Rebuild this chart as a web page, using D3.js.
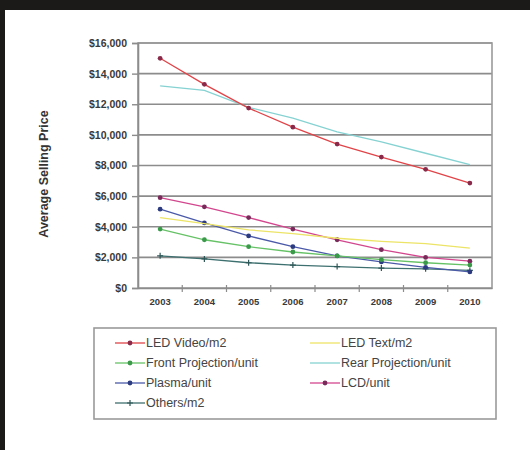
<!DOCTYPE html>
<html>
<head>
<meta charset="utf-8">
<script src="https://cdn.jsdelivr.net/npm/d3@7"></script>
<style>
  html, body { margin: 0; padding: 0; background: #1c1a18; }
  svg { display: block; }
  text { font-family: Arial, "Liberation Sans", sans-serif; }
</style>
</head>
<body>
<svg id="chart" width="530" height="450"></svg>
<script>
// Years on the category axis
const years = ["2003", "2004", "2005", "2006", "2007", "2008", "2009", "2010"];

// Average selling price per series (USD)
const ledVideo   = [15000, 13300, 11750, 10500, 9400, 8550, 7750, 6850];
const ledText    = [4600, 4200, 3800, 3550, 3250, 3050, 2900, 2600];
const frontProj  = [3850, 3150, 2700, 2350, 2100, 1850, 1650, 1500];
const rearProj   = [13200, 12900, 11800, 11100, 10200, 9550, 8800, 8050];
const plasma     = [5150, 4250, 3400, 2700, 2100, 1700, 1350, 1050];
const lcd        = [5900, 5300, 4600, 3850, 3150, 2500, 2000, 1750];
const others     = [2100, 1900, 1650, 1500, 1400, 1300, 1250, 1150];

const seriesNames = ["LED Video/m2", "LED Text/m2", "Front Projection/unit", "Rear Projection/unit",
                     "Plasma/unit", "LCD/unit", "Others/m2"];
const yTicks = [0, 2000, 4000, 6000, 8000, 10000, 12000, 14000, 16000];

const series = [
  { name: seriesNames[0], values: ledVideo,  line: "#e04448", mark: "#8a2a4a", shape: "circle" },
  { name: seriesNames[1], values: ledText,   line: "#ece466", mark: "#d8cf40", shape: "none" },
  { name: seriesNames[2], values: frontProj, line: "#66c266", mark: "#3a9a4a", shape: "circle" },
  { name: seriesNames[3], values: rearProj,  line: "#86d2d2", mark: "#6cc0c0", shape: "none" },
  { name: seriesNames[4], values: plasma,    line: "#4b5aa8", mark: "#2c3a80", shape: "circle" },
  { name: seriesNames[5], values: lcd,       line: "#d2468e", mark: "#7a2a5a", shape: "circle" },
  { name: seriesNames[6], values: others,    line: "#3e7070", mark: "#2e5656", shape: "plus" }
];

const svg = d3.select("#chart");

// white page inside the dark frame
svg.append("rect").attr("x", 5).attr("y", 10).attr("width", 525).attr("height", 440).attr("fill", "#ffffff");

const plot = { left: 138, right: 492, top: 43, bottom: 288 };

const x = d3.scaleBand().domain(years).range([plot.left, plot.right]);
const y = d3.scaleLinear().domain([0, 16000]).range([plot.bottom, plot.top]);

// horizontal gridlines
svg.append("g")
  .selectAll("line")
  .data(yTicks.filter(d => d > 0))
  .join("line")
  .attr("x1", plot.left).attr("x2", plot.right)
  .attr("y1", d => y(d)).attr("y2", d => y(d))
  .attr("stroke", "#8c8c8c").attr("stroke-width", 1.6);

// plot frame
svg.append("rect")
  .attr("x", plot.left).attr("y", plot.top)
  .attr("width", plot.right - plot.left).attr("height", plot.bottom - plot.top)
  .attr("fill", "none").attr("stroke", "#9a9a9a").attr("stroke-width", 1.6);

// y axis
const yAxis = d3.axisLeft(y)
  .tickValues(yTicks)
  .tickSize(6)
  .tickPadding(5)
  .tickFormat(d => "$" + d3.format(",")(d));
const gy = svg.append("g").attr("transform", `translate(${plot.left},0)`).call(yAxis);
gy.select(".domain").attr("stroke", "#8c8c8c").attr("stroke-width", 1.6);
gy.selectAll(".tick line").attr("stroke", "#8c8c8c").attr("stroke-width", 1.4);
gy.selectAll(".tick text").attr("font-size", 10.5).attr("fill", "#3a3a3a").attr("font-weight", "bold");

// x axis: labels centred in bands, tick marks on band boundaries
const xAxis = d3.axisBottom(x).tickSize(0).tickPadding(10);
const gx = svg.append("g").attr("transform", `translate(0,${plot.bottom})`).call(xAxis);
gx.select(".domain").attr("stroke", "#8c8c8c").attr("stroke-width", 1.6);
gx.selectAll(".tick text").attr("font-size", 9.5).attr("fill", "#3a3a3a").attr("font-weight", "bold");
svg.append("g")
  .selectAll("line")
  .data(years.slice(1))
  .join("line")
  .attr("x1", d => x(d)).attr("x2", d => x(d))
  .attr("y1", plot.bottom - 3).attr("y2", plot.bottom + 4)
  .attr("stroke", "#8c8c8c").attr("stroke-width", 1.2);

// y axis title
svg.append("text")
  .attr("transform", `translate(48,174) rotate(-90)`)
  .attr("text-anchor", "middle")
  .attr("font-size", 12.5)
  .attr("font-weight", "bold")
  .attr("fill", "#333")
  .text("Average Selling Price");

const cx = d => x(d) + x.bandwidth() / 2;
const line = d3.line().x((v, i) => cx(years[i])).y(v => y(v));

function drawMarker(g, shape, color, px, py) {
  if (shape === "circle") {
    g.append("circle").attr("cx", px).attr("cy", py).attr("r", 2.4).attr("fill", color);
  } else if (shape === "plus") {
    g.append("path")
      .attr("d", `M${px - 3},${py}H${px + 3}M${px},${py - 3}V${py + 3}`)
      .attr("stroke", color).attr("stroke-width", 1.2);
  }
}

// series lines, last legend entry drawn first so LED Video sits on top
const lines = svg.append("g");
series.slice().reverse().forEach(s => {
  const g = lines.append("g");
  g.append("path")
    .attr("d", line(s.values))
    .attr("fill", "none")
    .attr("stroke", s.line)
    .attr("stroke-width", 1.3);
  s.values.forEach((v, i) => drawMarker(g, s.shape, s.mark, cx(years[i]), y(v)));
});

// legend
const lg = svg.append("g");
lg.append("rect")
  .attr("x", 94).attr("y", 328).attr("width", 402).attr("height", 91)
  .attr("fill", "#fff").attr("stroke", "#9a9a9a").attr("stroke-width", 1.6);

const colX = [115, 310];
const rowY = [343, 363, 383, 403];
series.forEach((s, i) => {
  const col = i % 2, row = Math.floor(i / 2);
  const lx = colX[col], ly = rowY[row];
  const g = lg.append("g");
  g.append("line")
    .attr("x1", lx).attr("x2", lx + 30).attr("y1", ly).attr("y2", ly)
    .attr("stroke", s.line).attr("stroke-width", 1.3);
  drawMarker(g, s.shape, s.mark, lx + 15, ly);
  g.append("text")
    .attr("x", lx + 31).attr("y", ly + 4)
    .attr("font-size", 12.5)
    .attr("fill", "#444")
    .text(s.name);
});
</script>
</body>
</html>
